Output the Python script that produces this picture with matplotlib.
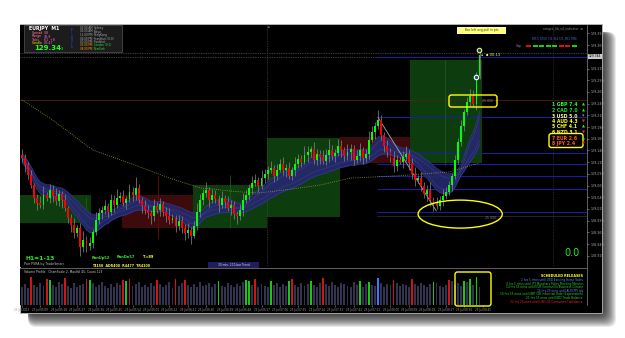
import matplotlib
matplotlib.use("Agg")
import matplotlib.pyplot as plt
import numpy as np
import pandas as pd
from matplotlib.patches import Rectangle, Ellipse, FancyBboxPatch

# ---------------- data ----------------
first_open = 129.131
closes = [129.124, 129.109, 129.088, 129.066, 129.039, 129.028, 129.024, 129.045, 129.039, 129.056,
          129.043, 129.032, 129.047, 129.034, 129.017, 128.996, 128.981, 128.964, 128.975, 128.934,
          128.949, 128.936, 128.943, 128.966, 128.992, 129.007, 129.013, 129.022, 129.009, 129.034,
          129.024, 129.039, 129.043, 129.028, 129.037, 129.052, 129.045, 129.060, 129.034, 129.022,
          129.013, 129.007, 129.000, 129.022, 129.013, 129.026, 129.009, 129.000, 128.992, 128.996,
          128.979, 128.990, 128.975, 128.964, 128.970, 128.958, 128.979, 129.009, 129.034, 129.049,
          129.056, 129.034, 129.045, 129.037, 129.024, 129.039, 129.030, 129.017, 129.024, 129.004,
          129.000, 129.013, 129.034, 129.045, 129.060, 129.071, 129.077, 129.064, 129.081, 129.090,
          129.099, 129.103, 129.086, 129.099, 129.111, 129.099, 129.103, 129.086, 129.099, 129.111,
          129.122, 129.116, 129.131, 129.137, 129.143, 129.120, 129.133, 129.126, 129.118, 129.131,
          129.141, 129.128, 129.135, 129.150, 129.141, 129.128, 129.137, 129.143, 129.120, 129.128,
          129.141, 129.124, 129.133, 129.163, 129.180, 129.193, 129.205, 129.173, 129.150, 129.137,
          129.124, 129.107, 129.120, 129.116, 129.126, 129.133, 129.114, 129.090, 129.077, 129.081,
          129.064, 129.047, 129.056, 129.034, 129.028, 129.022, 129.034, 129.043, 129.052, 129.066,
          129.086, 129.120, 129.158, 129.193, 129.222, 129.244, 129.257, 129.240, 129.299, 129.344]
# wick lengths beyond the body, in units of 0.002
upper_wick = [6, 4, 3, 5, 2, 4, 7, 9, 3, 6, 5, 8, 4, 3, 6, 2, 4, 7, 3, 5,
              9, 4, 6, 3, 8, 5, 4, 6, 3, 7, 5, 9, 4, 6, 3, 8, 5, 12, 4, 3,
              6, 5, 3, 7, 4, 6, 3, 5, 8, 4, 3, 6, 5, 4, 7, 3, 5, 9, 6, 4,
              8, 3, 6, 5, 4, 7, 3, 6, 5, 4, 3, 6, 8, 5, 4, 7, 6, 3, 9, 5,
              4, 7, 3, 6, 5, 8, 4, 6, 3, 7, 5, 4, 9, 6, 3, 7, 5, 4, 8, 6,
              12, 5, 4, 7, 6, 3, 8, 5, 4, 6, 7, 3, 5, 9, 6, 4, 11, 5, 3, 6,
              4, 7, 5, 3, 6, 8, 4, 5, 7, 3, 6, 4, 5, 8, 3, 6, 4, 7, 5, 4,
              3, 5, 4, 6, 3, 5, 7, 6, 4, 5]
lower_wick = [4, 7, 5, 3, 6, 8, 4, 5, 3, 6, 7, 4, 5, 9, 3, 6, 8, 5, 4, 10,
              5, 7, 4, 6, 3, 5, 7, 4, 6, 3, 8, 4, 5, 3, 7, 4, 6, 5, 3, 8,
              4, 6, 9, 5, 3, 7, 4, 6, 5, 3, 7, 4, 6, 8, 5, 9, 3, 4, 6, 5,
              4, 7, 3, 5, 8, 4, 6, 3, 7, 5, 9, 4, 6, 3, 5, 7, 4, 6, 3, 5,
              6, 4, 7, 5, 3, 6, 8, 4, 5, 7, 4, 6, 3, 8, 5, 4, 6, 7, 3, 5,
              8, 4, 6, 3, 7, 5, 4, 9, 6, 3, 5, 7, 4, 6, 3, 8, 4, 5, 7, 6,
              4, 6, 5, 3, 7, 4, 8, 5, 6, 3, 5, 4, 7, 6, 9, 4, 5, 6, 3, 4,
              6, 3, 5, 4, 6, 3, 5, 4, 7, 3]
wick_unit = 0.002

volumes = [22, 25, 20, 33, 24, 21, 26, 23, 31, 30, 24, 22, 27, 25, 32, 23, 20, 26, 22, 24,
           25, 31, 30, 26, 21, 24, 27, 23, 20, 25, 22, 26, 24, 30, 29, 31, 23, 25, 27, 22,
           24, 21, 26, 23, 30, 25, 22, 24, 27, 20, 31, 23, 26, 30, 24, 22, 25, 21, 27, 23,
           24, 26, 22, 25, 29, 23, 21, 26, 24, 22, 25, 23, 27, 30, 29, 24, 31, 22, 25, 23,
           21, 28, 24, 26, 22, 25, 23, 29, 31, 24, 22, 26, 23, 25, 28, 24, 21, 26, 32, 25,
           23, 27, 24, 22, 26, 25, 23, 21, 27, 24, 28, 22, 25, 27, 24, 23, 32, 26, 22, 25,
           24, 30, 26, 23, 25, 24, 22, 31, 25, 23, 26, 24, 22, 25, 27, 26, 23, 21, 24, 30,
           28, 24, 26, 23, 29, 27, 31, 24, 33, 22]
vol_red = [3, 8, 14, 21, 33, 35, 44, 50, 53, 76, 88, 98, 121, 127, 139]
vol_green = [9, 22, 34, 64, 73, 74, 81, 87, 94, 110, 113, 134, 144, 146, 148]
vol_blue = [116]

slow_ma_idx = [0, 10, 23, 35, 48, 58, 70, 77, 86, 97, 107, 123, 139, 149]
slow_ma_val = [129.248, 129.205, 129.141, 129.113, 129.081, 129.060, 129.052, 129.049,
               129.056, 129.066, 129.081, 129.086, 129.094, 129.113]

# zone boxes: (start idx, end idx, low price, high price, kind)
zones = [(-0.7, 22.5, 128.985, 129.045, "up"),
         (32.6, 55.7, 128.975, 129.045, "dn"),
         (55.7, 79.8, 128.975, 129.066, "up"),
         (79.8, 103.6, 128.998, 129.167, "up"),
         (103.6, 126.4, 129.113, 129.169, "dn"),
         (126.4, 149.8, 129.113, 129.334, "up")]
levels = [129.340, 129.212, 129.135, 129.111, 129.086, 129.058, 129.009]
level_start = 115.6
dotted_levels = [129.349, 129.340]
day_open_level = 129.248
trend_line = ([116, 134.9], [129.210, 129.011])

price_ticks = [128.915, 128.940, 128.965, 128.990, 129.015, 129.040, 129.065, 129.090,
               129.115, 129.140, 129.165, 129.190, 129.215, 129.240, 129.265, 129.290,
               129.315, 129.340, 129.365, 129.390]
current_price = 129.344
time_idx = list(range(0, 151, 6))
time_labels = ["25 Jul 2013", "25 Jul 05:09", "25 Jul 05:18", "25 Jul 05:27", "25 Jul 05:36",
               "25 Jul 05:45", "25 Jul 05:54", "25 Jul 06:03", "25 Jul 06:12", "25 Jul 06:21",
               "25 Jul 06:30", "25 Jul 06:39", "25 Jul 06:48", "25 Jul 06:57", "25 Jul 07:06",
               "25 Jul 07:15", "25 Jul 07:24", "25 Jul 07:33", "25 Jul 07:42", "25 Jul 07:51",
               "25 Jul 08:00", "25 Jul 08:09", "25 Jul 08:18", "25 Jul 08:27", "25 Jul 08:36",
               "25 Jul 08:45"]

currency_labels = ["1 GBP 7.4", "2 CAD 7.0", "3 USD 5.0", "4 AUD 4.3",
                   "5 CHF 4.1", "6 NZD 3.1", "7 EUR 2.6", "8 JPY 2.4"]
currency_colors = ["#22ff22", "#22dd22", "#ffff88", "#ffff22",
                   "#ffff22", "#ffff22", "#ff5a1e", "#ff5a1e"]
currency_signal = ["up", "up", "flat", "dn", "up", "dn", "up", "dn"]
tf_trend = ["dn", "up", "up", "up", "up", "dn", "dn", "up"]

sessions = [("01:00 AM", "Sydney", "#aaaaaa", "#aaaaaa"),
            ("02:00 AM", "Tokyo", "#aaaaaa", "#aaaaaa"),
            ("11:00 PM", "HongKong", "#aaaaaa", "#aaaaaa"),
            ("06:00 PM", "Frankfurt (0:0)", "#aaaaaa", "#aaaaaa"),
            ("01:00 PM", "Frankfurt", "#aaaaaa", "#aaaaaa"),
            ("03:00 PM", "London (0:1)", "#ff9900", "#33dd33"),
            ("08:00 PM", "NewYork", "#ff9900", "#33dd33")]
releases = [("1 hrs 5 mins until USD Existing Home Sales", "#4d8cff"),
            ("4 hrs 5 mins until JPY Monetary Policy Meeting Minutes", "#33cc33"),
            ("14 hrs 55 mins until EUR German Ifo Business Climate", "#33cc33"),
            ("16 hrs 25 mins until AUD PPI q/q", "#4d8cff"),
            ("16 hrs 55 mins until GBP CBI Industrial Order Expectations", "#33cc33"),
            ("21 hrs 55 mins until NZD Trade Balance", "#33cc33"),
            ("22 hrs 25 mins until USD CB Consumer Confidence", "#ff2020")]

# ---------------- figure ----------------
W, H = 625, 338
fig = plt.figure(figsize=(W / 100, H / 100), dpi=100)
fig.patch.set_facecolor("white")

def px_axes(z):
    a = fig.add_axes([0, 0, 1, 1], zorder=z)
    a.set_xlim(0, W)
    a.set_ylim(H, 0)
    a.axis("off")
    a.patch.set_alpha(0)
    return a

bg = px_axes(-10)
# drop shadow
for k in range(1, 15):
    bg.add_patch(FancyBboxPatch((28, 32), 574 + k, 281 + k, boxstyle="round,pad=0,rounding_size=8",
                                facecolor="black", edgecolor="none", alpha=0.085))
bg.add_patch(Rectangle((20, 24), 582, 289, facecolor="black", edgecolor="#bbbbbb", lw=0.6))

# ---------------- main price panel ----------------
xl = (-0.65, 184.0)
ax = fig.add_axes([20 / W, (H - 267) / H, 567 / W, 242 / H])
ax.set_facecolor("black")
ax.set_xlim(*xl)
ax.set_ylim(128.891, 129.408)

n = len(closes)
idx = np.arange(n)
c = np.array(closes)
o = np.array([first_open] + closes[:-1])
top = np.maximum(o, c)
bot = np.minimum(o, c)
hi = top + np.array(upper_wick) * wick_unit
lo = bot - np.array(lower_wick) * wick_unit

zone_col = {"up": "#0d3d0f", "dn": "#3d0b0b"}
for x0, x1, p0, p1, kind in zones:
    ax.add_patch(Rectangle((x0, p0), x1 - x0, p1 - p0, facecolor=zone_col[kind],
                           edgecolor="none", zorder=1))

# horizontal reference lines
ax.axhline(day_open_level, color="#4a2410", lw=0.6, zorder=1.5)
for lv in dotted_levels:
    ax.axhline(lv, color="#777777", lw=0.5, ls=(0, (1, 1.5)), zorder=1.5)
ax.hlines(levels, level_start, xl[1], color="#1c1cb0", lw=0.7, zorder=1.6)
ax.hlines([128.999], level_start, xl[1], color="#2a2a2a", lw=0.6, zorder=1.5)
ax.axvline(79.8, color="#555555", lw=0.5, ls=(0, (1, 1.5)), zorder=1.5)
ax.axvline(173.0, color="#444444", lw=0.5, ls=(0, (1, 1.5)), zorder=1.5)
ax.vlines([137.8], 129.109, 129.334, color="#1f5a1f", lw=0.6, zorder=1.5)
ax.vlines([21.0, 67.8], [128.970, 128.975], [129.040, 129.088], color="#1f5a1f", lw=0.6, zorder=1.5)
ax.vlines([44.3], 128.950, 129.085, color="#5a1010", lw=0.6, zorder=1.5)

# moving-average ribbon
s = pd.Series(closes)
ema_f = s.ewm(span=12).mean().values
ema_s = s.ewm(span=26).mean().values
up_b = np.maximum(ema_f, ema_s) + 0.010
dn_b = np.minimum(ema_f, ema_s) - 0.010
ax.fill_between(idx, dn_b, up_b, color="#24286a", alpha=0.95, lw=0, zorder=2)
ax.plot(idx, up_b, color="#353a8e", lw=0.5, zorder=2.1)
ax.plot(idx, dn_b, color="#353a8e", lw=0.5, zorder=2.1)
ax.plot(idx, ema_f, color="#5d6098", lw=0.35, ls=(0, (1, 1.2)), zorder=2.2)
ax.plot(idx, ema_s, color="#5d6098", lw=0.35, ls=(0, (1, 1.2)), zorder=2.2)

# slow MA
ax.plot(slow_ma_idx, slow_ma_val, color="#9a9a3a", lw=0.6, ls=(0, (1, 1.6)), zorder=2.3)

# trend line
ax.plot(trend_line[0], trend_line[1], color="#aaaaaa", lw=0.6, zorder=2.4)

# candles
ax.vlines(idx, lo, hi, color="#8a8a8a", lw=0.5, zorder=3)
cols = np.where(c >= o, "#00ff00", "#ff0000")
ax.bar(idx, np.maximum(top - bot, 0.0015), bottom=bot, width=0.62, color=cols, lw=0, zorder=4)

# markers on last candles
ax.plot([148.7], [129.355], marker="o", ms=3.2, mfc="#1030a0", mec="#ffff40", mew=0.8, zorder=6)
ax.plot([147.8], [129.297], marker="o", ms=3.2, mfc="#106070", mec="white", mew=0.8, zorder=6)

# yellow ellipse
ax.add_patch(Ellipse((142.7, 129.004), 27.4, 0.0598, fill=False, edgecolor="#ffff00", lw=1.0, zorder=7))

# axis styling
ax.set_xticks([])
ax.yaxis.tick_right()
ax.set_yticks(price_ticks)
ax.set_yticklabels(["" if abs(p - current_price) < 0.008 else f"{p:.3f}" for p in price_ticks])
ax.tick_params(axis="y", labelsize=2.3, colors="#aaaaaa", length=1.5, width=0.4, pad=1)
for sp in ["left", "top", "bottom"]:
    ax.spines[sp].set_visible(False)
ax.spines["right"].set_color("#888888")
ax.spines["right"].set_linewidth(0.5)

# ---------------- volume panel ----------------
av = fig.add_axes([20 / W, (H - 305) / H, 567 / W, 37 / H])
av.set_facecolor("black")
av.set_xlim(*xl)
av.set_ylim(0, 44)
vcols = ["#33334f"] * n
for i in vol_red:
    vcols[i] = "#d01515"
for i in vol_green:
    vcols[i] = "#18c818"
for i in vol_blue:
    vcols[i] = "#2a80ff"
av.bar(idx, volumes, width=0.62, color=vcols, lw=0)
av.set_yticks([])
av.set_xticks(time_idx)
av.set_xticklabels(time_labels)
av.tick_params(axis="x", labelsize=2.0, colors="#999999", length=1.2, width=0.4, pad=0.8)
for sp in ["left", "bottom"]:
    av.spines[sp].set_visible(False)
for sp in ["top", "right"]:
    av.spines[sp].set_color("#888888")
    av.spines[sp].set_linewidth(0.5)

# ---------------- overlay texts ----------------
ov = px_axes(20)

def T(x, y, s, col, fs, ha="left", **kw):
    ov.text(x, y, s, color=col, fontsize=fs, ha=ha, va="center", **kw)

# info box
ov.add_patch(Rectangle((24, 25), 98, 27, facecolor="#1c1c1c", edgecolor="#555555", lw=0.5))
T(29, 28.5, "EURJPY  M1", "white", 3.4, weight="bold")
T(32, 33, "Spread", "#ff7799", 2.3); T(44, 33, "0.8", "#ff66cc", 2.3)
T(32, 36.5, "Range", "#ff7799", 2.3); T(44, 36.5, "33.9", "#ff66cc", 2.3)
T(32, 40, "Ticks", "#ff7799", 2.3); T(44, 40, "61  +8", "#ff66cc", 2.3)
T(32, 43.5, "Candle", "#ffcc00", 2.3); T(44, 43.5, "00:47", "#ff66cc", 2.3)
T(34, 48, "129.34", "#22ff22", 5.0, weight="bold")
T(61, 49, "3", "#22ff22", 2.6)
for k, ch in enumerate("PIVOTS"):
    T(71, 30 + k * 3.4, ch, "#3355ff", 2.0)
for k, (tm, nm, c1, c2) in enumerate(sessions):
    T(80, 28 + k * 3.5, tm, c1, 2.0)
    T(94, 28 + k * 3.5, nm, c2, 2.0)

# top labels
ov.add_patch(Rectangle((457, 27), 49, 6.5, facecolor="#ffff80", edgecolor="none"))
T(481.5, 30.2, "Bar left avg pull in pts", "#444400", 2.2, ha="center")
T(583, 29, "ranges_fib_v4_indicator  \u2299", "#888888", 2.2, ha="right")
T(577, 39, "M15 M30 H1 H4 D1 W1 MN", "#4466cc", 2.3, ha="right")
T(516, 45.5, "Gap", "#888888", 2.2)
for k, tr in enumerate(tf_trend):
    ov.plot([526 + k * 6.5, 531 + k * 6.5], [45.5, 45.5],
            color="#ff1010" if tr == "dn" else "#10ee10", lw=1.3, solid_capstyle="butt")
T(266, 28, "\u2691", "#886633", 2.6)

# countdown near last bar
T(481, 55, "\u25aa", "#aaaaaa", 2.4)
T(486, 55, "\u25aa 00:13", "#ffff33", 2.6)

# yellow boxes
ov.add_patch(FancyBboxPatch((449, 95), 48, 12, boxstyle="round,pad=0,rounding_size=2.5",
                            fill=False, edgecolor="#ffff00", lw=1.0))
T(494, 101.5, "-25.000", "#888888", 2.2, ha="right")
T(497, 218, "-25.000", "#888888", 2.2, ha="right")
ov.add_patch(FancyBboxPatch((549, 133.5), 34, 14, boxstyle="round,pad=0,rounding_size=2.5",
                            fill=False, edgecolor="#ffff00", lw=1.0))
ov.add_patch(FancyBboxPatch((455, 272), 36, 34, boxstyle="round,pad=0,rounding_size=2.5",
                            fill=False, edgecolor="#ffff00", lw=1.0))

# currency strength list
for k, (lab, colr, sig) in enumerate(zip(currency_labels, currency_colors, currency_signal)):
    y = 105 + k * 5.5
    T(552, y, lab, colr, 3.3, weight="bold")
    if sig == "up":
        T(582, y, "\u25b2", "#22ee22", 2.8)
    elif sig == "dn":
        T(582, y, "\u25bc", "#ff2020", 2.8)
    else:
        T(582, y, "*", "#dddddd", 3.4)

# current price tag
ov.add_patch(Rectangle((587.5, 53.5), 14, 5.5, facecolor="#c8c8c8", edgecolor="none"))
T(594.5, 56.3, f"{current_price:.3f}", "black", 2.2, ha="center")

# big zero
T(564, 253, "0.0", "#22ee22", 7.0)

# bottom-left texts
T(26, 258, "H1=1-13", "#22ee22", 4.3, weight="bold")
T(24, 264, "Pair PSRA by TradeSmart", "#bbbbbb", 2.3)
T(92, 257.5, "RanUp52", "#33ee33", 2.6, weight="bold")
T(117, 257.5, "RanDn57", "#33ee33", 2.6, weight="bold")
T(143, 257.5, "T=89", "#ffff33", 2.6, weight="bold")
T(92, 266, "T4150  ADR400  R4477  TR4100", "#ffff33", 2.3, weight="bold")
ov.add_patch(Rectangle((208, 262), 51, 5.5, facecolor="#1e1e5e", edgecolor="none"))
T(233.5, 264.8, "30 min, 200-bar Trend", "#dddddd", 2.1, ha="center")
T(24, 272, "Volume Profile   ChartScale 2, MaxVol 45, Count 123", "#cccccc", 2.2)

# scheduled releases
T(583, 276, "SCHEDULED RELEASES", "#ffff33", 2.4, ha="right", weight="bold")
for k, (txt, colr) in enumerate(releases):
    T(583, 280 + k * 3.6, txt, colr, 2.1, ha="right")

fig.savefig("out.png", dpi=100, facecolor="white")
